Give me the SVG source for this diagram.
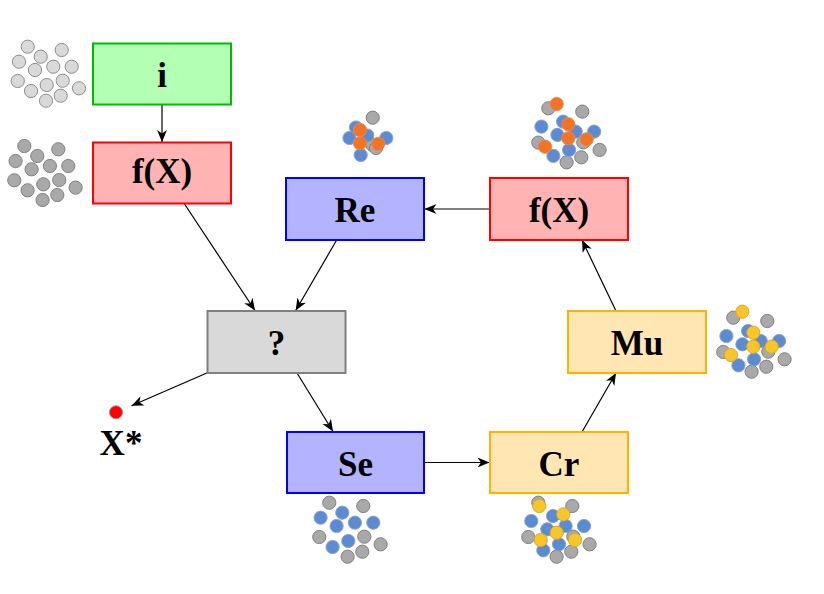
<svg xmlns="http://www.w3.org/2000/svg" xmlns:xlink="http://www.w3.org/1999/xlink" width="824" height="594" viewBox="0 0 824 594">
<style>
.box{stroke-width:2}
.green{fill:#b3ffb3;stroke:#00bb00}
.red{fill:#ffb3b3;stroke:#ff0000}
.blue{fill:#b3b3ff;stroke:#0000ff}
.grey{fill:#d9d9d9;stroke:#808080}
.yel{fill:#ffe6b3;stroke:#ffb300}
.lbl{font-family:"Liberation Serif","Times New Roman",serif;font-weight:bold;font-size:35px;fill:#000;text-anchor:middle}
.c0{fill:#d9d9d9;stroke:#8c8c8c;stroke-width:1}
.cg{fill:#a9a9a9;stroke:#808080;stroke-width:1}
.cb{fill:#5b8bd2;stroke:#8aa3cc;stroke-width:1}
.co{fill:#f47325;stroke:#e88a50;stroke-width:1}
.cy{fill:#f9c62a;stroke:#e0a820;stroke-width:1}
.conn line{stroke:#000;stroke-width:1.2;fill:none;marker-end:url(#ah)}
</style>
<defs>
<marker id="ah" markerUnits="userSpaceOnUse" markerWidth="13" markerHeight="11" refX="12" refY="5" orient="auto">
<path d="M0,0 L12,5 L0,10 L3.5,5 z" fill="#000"/>
</marker>
<g id="tg">
<circle class="cg" cx="27.7" cy="46.7" r="6.6"/>
<circle class="cg" cx="61.7" cy="50" r="6.6"/>
<circle class="cg" cx="17.7" cy="81" r="6.6"/>
<circle class="cg" cx="62.7" cy="80.7" r="6.6"/>
<circle class="cg" cx="79" cy="88.3" r="6.6"/>
<circle class="cg" cx="60.7" cy="95.7" r="6.6"/>
<circle class="cg" cx="46" cy="100.7" r="6.6"/>
</g>
<g id="tb">
<circle class="cb" cx="40.7" cy="56.7" r="6.6"/>
<circle class="cb" cx="19" cy="61.7" r="6.6"/>
<circle class="cb" cx="53.3" cy="66.7" r="6.6"/>
<circle class="cb" cx="71.7" cy="66.7" r="6.6"/>
<circle class="cb" cx="35" cy="70" r="6.6"/>
<circle class="cb" cx="46.7" cy="85" r="6.6"/>
<circle class="cb" cx="31" cy="91" r="6.6"/>
</g>
</defs>

<g id="connectors" class="conn">
<line x1="162" y1="105" x2="162" y2="142"/>
<line x1="184.5" y1="204" x2="255" y2="310.5"/>
<line x1="336.7" y1="240" x2="295.7" y2="310.5"/>
<line x1="208" y1="372.5" x2="131.5" y2="405.7"/>
<line x1="297" y1="373" x2="333" y2="431.5"/>
<line x1="424" y1="462.5" x2="489.5" y2="462.5"/>
<line x1="582" y1="432" x2="616" y2="373"/>
<line x1="616" y1="311" x2="582" y2="240"/>
<line x1="490" y1="209" x2="424.5" y2="209"/>
</g>

<g id="node-i">
<rect class="box green" x="93" y="43.5" width="138" height="61"/>
<text class="lbl" x="162" y="86.7">i</text>
</g>
<g id="node-fx1">
<rect class="box red" x="93" y="142.5" width="138" height="61"/>
<text class="lbl" x="162" y="183">f(X)</text>
</g>
<g id="node-re">
<rect class="box blue" x="286" y="178" width="138" height="62"/>
<text class="lbl" x="355" y="221.5">Re</text>
</g>
<g id="node-fx2">
<rect class="box red" x="490" y="178" width="138" height="62"/>
<text class="lbl" x="559" y="221.5">f(X)</text>
</g>
<g id="node-q">
<rect class="box grey" x="207.5" y="311" width="138" height="62"/>
<text class="lbl" x="276.5" y="354.5">?</text>
</g>
<g id="node-mu">
<rect class="box yel" x="568" y="311" width="138" height="62"/>
<text class="lbl" x="637" y="355">Mu</text>
</g>
<g id="node-se">
<rect class="box blue" x="287" y="432" width="137" height="61"/>
<text class="lbl" x="355.5" y="475.5">Se</text>
</g>
<g id="node-cr">
<rect class="box yel" x="490" y="432" width="138" height="61"/>
<text class="lbl" x="559" y="475.5">Cr</text>
</g>
<g id="node-xstar">
<circle cx="116" cy="412.3" r="6.6" fill="#ff0000" stroke="#a0a0a0" stroke-width="1"/>
<text class="lbl" x="121" y="455">X*</text>
</g>

<g id="pop-init">
<circle class="c0" cx="27.7" cy="46.7" r="6.6"/>
<circle class="c0" cx="61.7" cy="50" r="6.6"/>
<circle class="c0" cx="40.7" cy="56.7" r="6.6"/>
<circle class="c0" cx="19" cy="61.7" r="6.6"/>
<circle class="c0" cx="53.3" cy="66.7" r="6.6"/>
<circle class="c0" cx="71.7" cy="66.7" r="6.6"/>
<circle class="c0" cx="35" cy="70" r="6.6"/>
<circle class="c0" cx="17.7" cy="81" r="6.6"/>
<circle class="c0" cx="62.7" cy="80.7" r="6.6"/>
<circle class="c0" cx="46.7" cy="85" r="6.6"/>
<circle class="c0" cx="79" cy="88.3" r="6.6"/>
<circle class="c0" cx="31" cy="91" r="6.6"/>
<circle class="c0" cx="60.7" cy="95.7" r="6.6"/>
<circle class="c0" cx="46" cy="100.7" r="6.6"/>
</g>

<g id="pop-eval" transform="translate(-3.4,99.3)">
<use xlink:href="#tg"/>
<circle class="cg" cx="40.7" cy="56.7" r="6.6"/>
<circle class="cg" cx="19" cy="61.7" r="6.6"/>
<circle class="cg" cx="53.3" cy="66.7" r="6.6"/>
<circle class="cg" cx="71.7" cy="66.7" r="6.6"/>
<circle class="cg" cx="35" cy="70" r="6.6"/>
<circle class="cg" cx="46.7" cy="85" r="6.6"/>
<circle class="cg" cx="31" cy="91" r="6.6"/>
</g>

<g id="pop-se" transform="translate(301.6,456)">
<use xlink:href="#tg"/>
<use xlink:href="#tb"/>
</g>

<g id="pop-cr" transform="translate(510.6,456)">
<use xlink:href="#tg"/>
<use xlink:href="#tb" transform="translate(1.7,3.3)"/>
<circle class="cy" cx="28.7" cy="50" r="6.6"/>
<circle class="cy" cx="52.7" cy="58.3" r="6.6"/>
<circle class="cy" cx="30.1" cy="84" r="6.6"/>
<circle class="cy" cx="46.1" cy="76.7" r="6.6"/>
<circle class="cy" cx="64.4" cy="84" r="6.6"/>
</g>

<g id="pop-mu" transform="translate(705.6,271)">
<use xlink:href="#tg"/>
<use xlink:href="#tb" transform="translate(1.8,3.3)"/>
<circle class="cy" cx="36.7" cy="40.7" r="6.6"/>
<circle class="cy" cx="47.7" cy="61.7" r="6.6"/>
<circle class="cy" cx="47.7" cy="75.7" r="6.6"/>
<circle class="cy" cx="66.1" cy="75.7" r="6.6"/>
<circle class="cy" cx="25.4" cy="84" r="6.6"/>
</g>

<g id="pop-fx2" transform="translate(520.6,61.6)">
<use xlink:href="#tg"/>
<use xlink:href="#tb" transform="translate(1.8,3.3)"/>
<circle class="co" cx="36.1" cy="42.4" r="6.6"/>
<circle class="co" cx="47.7" cy="62.7" r="6.6"/>
<circle class="co" cx="47.7" cy="76.7" r="6.6"/>
<circle class="co" cx="66.1" cy="77.7" r="6.6"/>
<circle class="co" cx="24.4" cy="85.1" r="6.6"/>
</g>

<g id="pop-re">
<circle class="cg" cx="372.7" cy="117.7" r="6.6"/>
<circle class="cg" cx="372.5" cy="145" r="6.6"/>
<circle class="cg" cx="376" cy="148" r="6.6"/>
<circle class="cb" cx="356" cy="127.5" r="6.6"/>
<circle class="cb" cx="367.3" cy="135.5" r="6.6"/>
<circle class="cb" cx="349.5" cy="138" r="6.6"/>
<circle class="cb" cx="386.3" cy="138" r="6.6"/>
<circle class="cb" cx="360.7" cy="155" r="6.6"/>
<circle class="co" cx="360" cy="130" r="6.6"/>
<circle class="co" cx="360" cy="143.3" r="6.6"/>
<circle class="co" cx="378.3" cy="143.8" r="6.6"/>
</g>
</svg>
